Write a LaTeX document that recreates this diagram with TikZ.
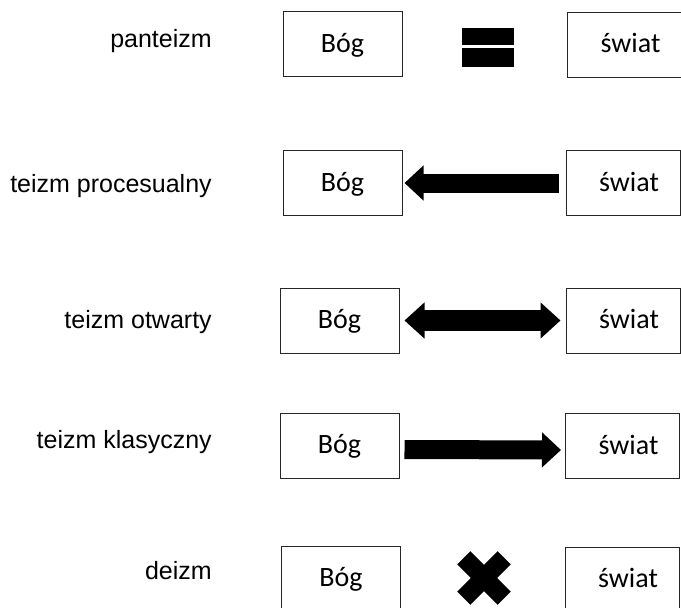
\documentclass[tikz,border=0pt]{standalone}
\usepackage{fontspec}
\setmainfont{Liberation Sans}
\newfontfamily\boxfont{Carlito}
\usetikzlibrary{arrows.meta}
\begin{document}
\begin{tikzpicture}[x=0.75pt,y=-0.75pt,
    rowlabel/.style={anchor=base east,inner sep=0pt,font=\fontsize{18.75}{22}\selectfont},
    termbox/.style={draw=black!85,line width=0.75pt,minimum width=89.25pt,minimum height=48.75pt,inner sep=0pt,text height=16pt,text depth=4pt,font=\boxfont\fontsize{21}{25}\selectfont},
    worldbox/.style={termbox,minimum width=85.5pt},
    fatarrow/.style={line width=14.25pt,-{Triangle[length=14.25pt,width=25.5pt]}},
    fatboth/.style={line width=15.75pt,{Triangle[length=15pt,width=26.25pt]}-{Triangle[length=15pt,width=26.25pt]}}]
\useasboundingbox(0,0)rectangle(681,607);
\clip(0,0)rectangle(681,607);
\node[rowlabel](l1)at(212,47){panteizm};
\node[rowlabel](l2)at(212,192){teizm procesualny};
\node[rowlabel](l3)at(212,328){teizm otwarty};
\node[rowlabel](l4)at(212,448){teizm klasyczny};
\node[rowlabel](l5)at(212,579){deizm};
\node[termbox](b1)at(342.5,44){Bóg};
\node[worldbox](w1)at(624.5,44.5){\hspace*{9pt}świat};
\node[termbox](b2)at(342.5,183){Bóg};
\node[worldbox](w2)at(623,183){\hspace*{9pt}świat};
\node[termbox](b3)at(339.5,320.5){Bóg};
\node[worldbox](w3)at(623,320.5){\hspace*{9pt}świat};
\node[termbox](b4)at(339.5,445.5){Bóg};
\node[worldbox](w4)at(622.5,446){\hspace*{9pt}świat};
\node[termbox](b5)at(341,578.5){Bóg};
\node[worldbox](w5)at(622,579.5){\hspace*{9pt}świat};
\fill(462,27.5)rectangle(514,45.3);
\fill(462,48.3)rectangle(514,66.7);
\draw[fatarrow,shorten <=5.25pt,shorten >=1.5pt](w2.west)--(b2.east);
\draw[fatboth,shorten <=3.75pt,shorten >=3.75pt](b3.east)--(w3.west);
\draw[fatarrow,shorten <=3.75pt,shorten >=3pt]([yshift=-3pt]b4.east)--([yshift=-3pt]w4.west);
\draw[line width=14pt](463.8,557.8)--(504.2,598.2)(463.8,598.2)--(504.2,557.8);
\end{tikzpicture}
\end{document}
